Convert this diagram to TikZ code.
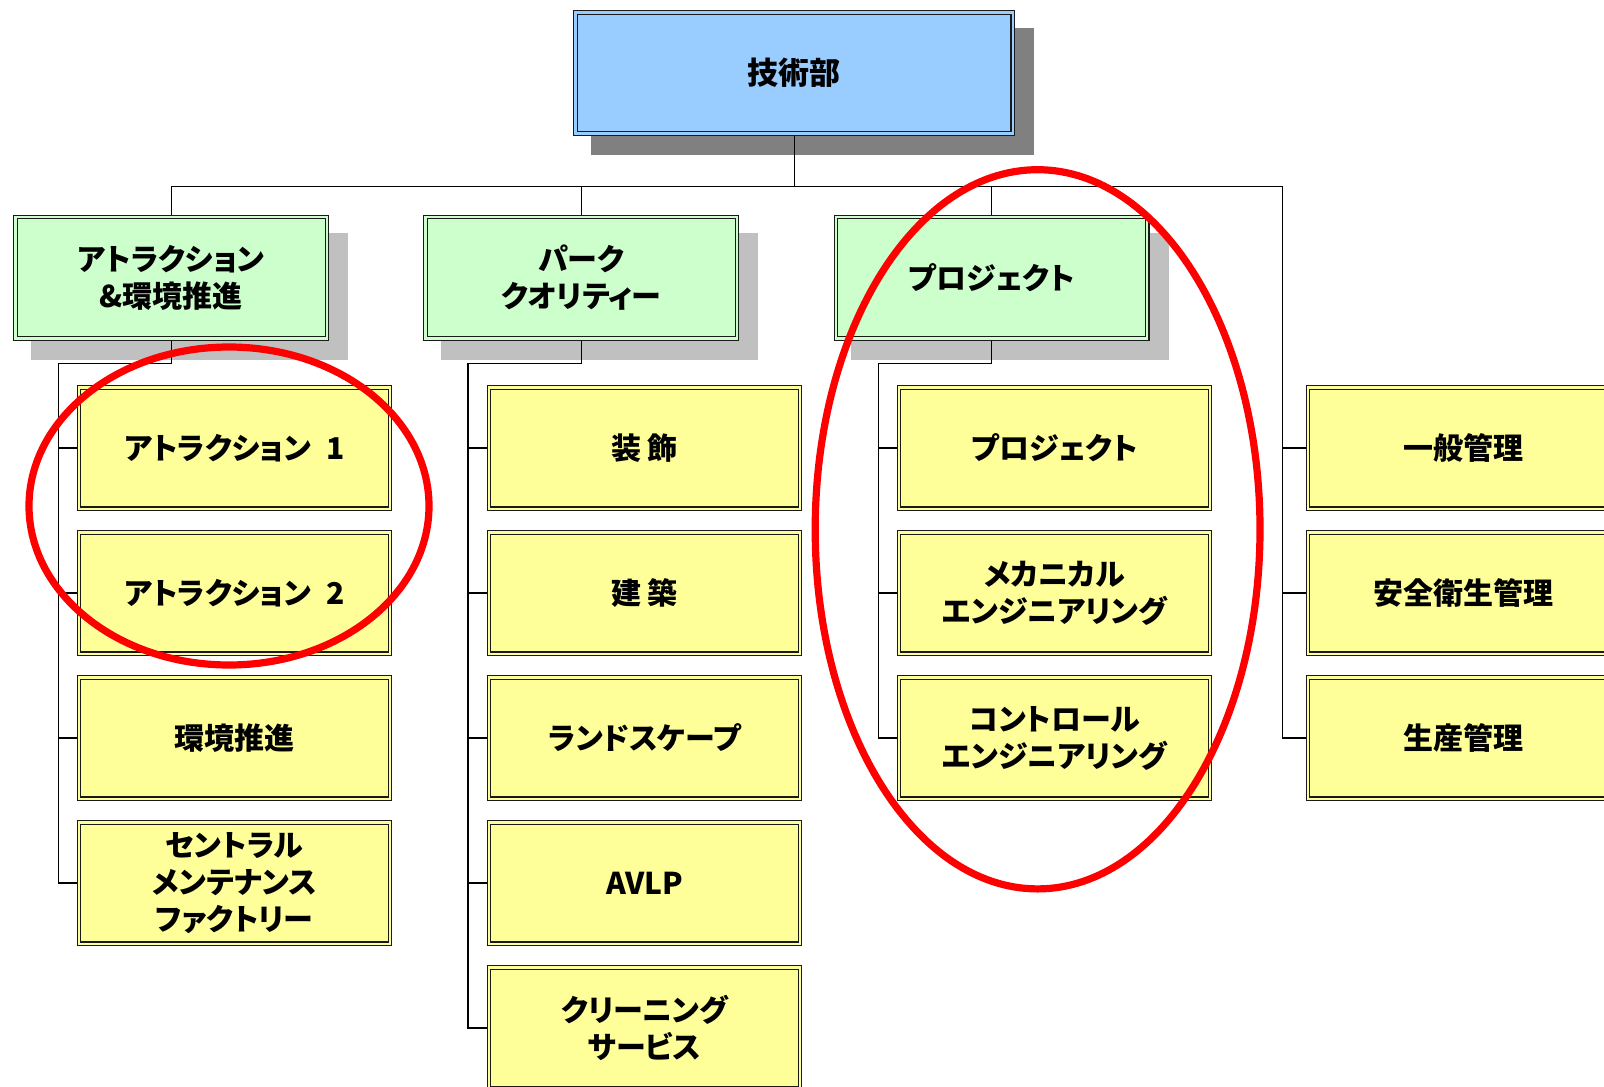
\documentclass[tikz,border=0pt]{standalone}
\usepackage{fontspec}
\newfontfamily\jp{Noto Sans CJK JP}[RawFeature=+palt]
\pgfdeclarelayer{paperlayer}
\pgfdeclarelayer{shadowlayer}
\pgfdeclarelayer{connlayer}
\pgfsetlayers{paperlayer,shadowlayer,connlayer,main}
\definecolor{topfill}{HTML}{99CCFF}
\definecolor{greenfill}{HTML}{CCFFCC}
\definecolor{yellowfill}{HTML}{FFFF99}
\definecolor{shadowdark}{HTML}{808080}
\definecolor{shadowlight}{HTML}{C0C0C0}
\definecolor{edge}{HTML}{1A1A1A}
\definecolor{ringred}{HTML}{FF0000}
\tikzset{
  orgbox/.style={rectangle, draw=edge, line width=0.55pt, double distance=1.2pt,
    align=center, inner sep=0pt,
    font=\jp\bfseries\fontsize{15pt}{18.5pt}\selectfont},
  topbox/.style={orgbox, fill=topfill, double=topfill, minimum width=218.55pt, minimum height=60.55pt,
    font=\jp\bfseries\fontsize{15.5pt}{18.5pt}\selectfont},
  greenbox/.style={orgbox, fill=greenfill, double=greenfill, minimum width=155.7pt, minimum height=60.85pt},
  yellowbox/.style={orgbox, fill=yellowfill, double=yellowfill, minimum width=155.5pt, minimum height=60.7pt},
  conn/.style={draw=black, line width=0.7pt},
  ring/.style={draw=ringred, line width=3.6pt},
}
\newcommand{\boxshadow}[2]{%
  \fill[#2] ([shift={(16.2,16.2)}]#1.north west) rectangle ([shift={(20.8,20.8)}]#1.south east);}
\begin{document}
\begin{tikzpicture}[x=0.5pt, y=-0.5pt]
\clip (0,0) rectangle (1604,1086);
\begin{pgfonlayer}{paperlayer}
\fill[white] (0,0) rectangle (1604,1086);
\end{pgfonlayer}

% top
\node[topbox] (top) at (794.2,72.9) {技術部};
% second level
\node[greenbox] (g1) at (171.3,277.8) {アトラクション\\\&環境推進};
\node[greenbox] (g2) at (581.3,277.8) {パーク\\クオリティー};
\node[greenbox] (g3) at (991.5,277.8) {プロジェクト};
% column 1
\node[yellowbox] (a1) at (234.5,448) {アトラクション\hspace{0.5em}1};
\node[yellowbox] (a2) at (234.5,593) {アトラクション\hspace{0.5em}2};
\node[yellowbox] (a3) at (234.5,738) {環境推進};
\node[yellowbox] (a4) at (234.5,883) {セントラル\\メンテナンス\\ファクトリー};
% column 2
\node[yellowbox] (b1) at (644.5,448) {装 飾};
\node[yellowbox] (b2) at (644.5,593) {建 築};
\node[yellowbox] (b3) at (644.5,738) {ランドスケープ};
\node[yellowbox] (b4) at (644.5,883) {AVLP};
\node[yellowbox] (b5) at (644.5,1028) {クリーニング\\サービス};
% column 3
\node[yellowbox] (c1) at (1054.6,448) {プロジェクト};
\node[yellowbox] (c2) at (1054.6,593) {メカニカル\\エンジニアリング};
\node[yellowbox] (c3) at (1054.6,738) {コントロール\\エンジニアリング};
% column 4
\node[yellowbox] (d1) at (1463.5,448) {一般管理};
\node[yellowbox] (d2) at (1463.5,593) {安全衛生管理};
\node[yellowbox] (d3) at (1463.5,738) {生産管理};

% shadows
\begin{pgfonlayer}{shadowlayer}
\boxshadow{top}{shadowdark}
\boxshadow{g1}{shadowlight}
\boxshadow{g2}{shadowlight}
\boxshadow{g3}{shadowlight}
\end{pgfonlayer}

% connectors
\coordinate (busR) at (1282.5,186.7);
\coordinate (v1) at (58.5,363.3);
\coordinate (v2) at (468,363.3);
\coordinate (v3) at (878.3,363.3);
\begin{pgfonlayer}{connlayer}
\draw[conn] (top.south) -- (top.south |- busR);
\draw[conn] (g1.north) |- (busR);
\draw[conn] (g2.north) -- (g2.north |- busR);
\draw[conn] (g3.north) -- (g3.north |- busR);
% col 1
\draw[conn] (g1.south) |- (v1) |- (a4.west);
\draw[conn] (v1 |- a1.west) -- (a1.west);
\draw[conn] (v1 |- a2.west) -- (a2.west);
\draw[conn] (v1 |- a3.west) -- (a3.west);
% col 2
\draw[conn] (g2.south) |- (v2) |- (b5.west);
\draw[conn] (v2 |- b1.west) -- (b1.west);
\draw[conn] (v2 |- b2.west) -- (b2.west);
\draw[conn] (v2 |- b3.west) -- (b3.west);
\draw[conn] (v2 |- b4.west) -- (b4.west);
% col 3
\draw[conn] (g3.south) |- (v3) |- (c3.west);
\draw[conn] (v3 |- c1.west) -- (c1.west);
\draw[conn] (v3 |- c2.west) -- (c2.west);
% col 4
\draw[conn] (busR) |- (d3.west);
\draw[conn] (busR |- d1.west) -- (d1.west);
\draw[conn] (busR |- d2.west) -- (d2.west);
\end{pgfonlayer}

% red rings
\draw[ring] (229,506) ellipse [x radius=100pt, y radius=79.5pt];
\draw[ring] (1037.6,529.3) ellipse [x radius=111.2pt, y radius=179.8pt];
\end{tikzpicture}
\end{document}
